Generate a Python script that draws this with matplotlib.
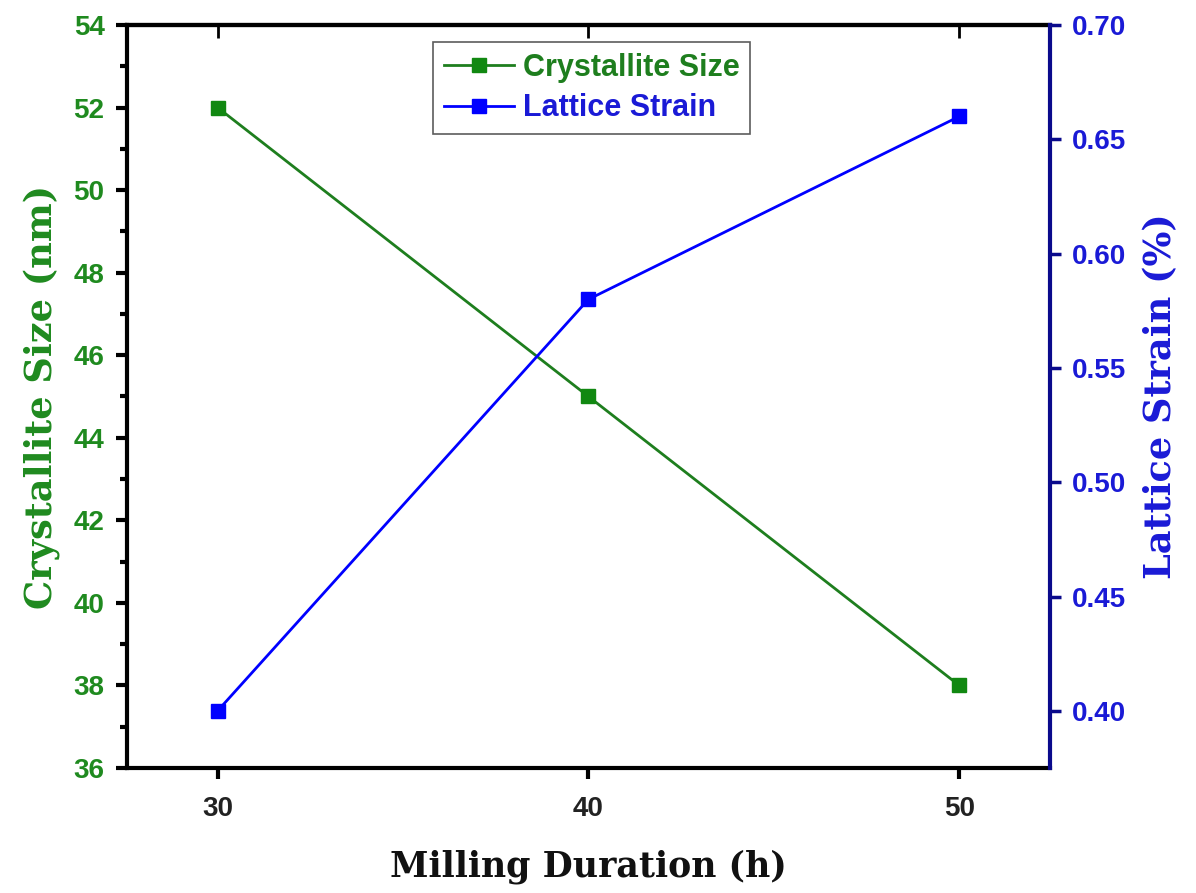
import matplotlib
matplotlib.use("Agg")
import matplotlib.pyplot as plt
from matplotlib.ticker import MultipleLocator, AutoMinorLocator, FormatStrFormatter

duration = [30, 40, 50]
crystallite_size = [52, 45, 38]
lattice_strain = [0.40, 0.58, 0.66]

green = "#1f8a1f"
green_line = "#1e7e1e"
blue = "#0000ff"
blue_text = "#1a1ad6"
navy = "#0a0a8c"

plt.rcParams["font.family"] = "Liberation Sans"
plt.rcParams["font.weight"] = "bold"

fig = plt.figure(figsize=(11.96, 8.93), dpi=100)
ax = fig.add_axes([0.106, 0.14, 0.772, 0.832])
ax2 = ax.twinx()

l1, = ax.plot(duration, crystallite_size, color=green_line, lw=2, marker="s",
              markersize=10, markerfacecolor="#118811", markeredgecolor="#118811",
              label="Crystallite Size")
l2, = ax2.plot(duration, lattice_strain, color=blue, lw=2, marker="s",
               markersize=10, markerfacecolor=blue, markeredgecolor=blue,
               label="Lattice Strain")

ax.set_xlim(27.55, 52.45)
ax.set_ylim(36, 54)
ax2.set_ylim(0.375, 0.70)
ax.set_xticks(duration)
ax.yaxis.set_major_locator(MultipleLocator(2))
ax.yaxis.set_minor_locator(AutoMinorLocator(2))
ax2.yaxis.set_major_locator(MultipleLocator(0.05))
ax2.yaxis.set_major_formatter(FormatStrFormatter("%.2f"))

for sp in ["left", "bottom", "top"]:
    ax.spines[sp].set_linewidth(3)
    ax.spines[sp].set_color("black")
ax.spines["right"].set_visible(False)
ax2.spines["right"].set_linewidth(3)
ax2.spines["right"].set_color(navy)
for sp in ["left", "bottom", "top"]:
    ax2.spines[sp].set_visible(False)

ax.tick_params(axis="x", which="major", direction="out", length=8, width=3,
               pad=12, labelsize=20, labelcolor="#222222", top=False)
ax.tick_params(axis="y", which="major", direction="out", length=8, width=3,
               pad=8, labelsize=20, labelcolor=green)
ax.tick_params(axis="y", which="minor", direction="out", length=5, width=3)
ax2.tick_params(axis="y", which="major", direction="out", length=8, width=2.5,
                color=navy, pad=8, labelsize=20, labelcolor=blue_text)

top = ax.secondary_xaxis("top")
top.set_xticks(duration)
top.tick_params(axis="x", direction="in", length=9, width=2, labeltop=False)
top.spines["top"].set_linewidth(3)

label_font = dict(family="DejaVu Serif", weight="bold")
ax.set_xlabel("Milling Duration (h)", **label_font, size=25, color="#111111",
              labelpad=20)
ax.set_ylabel("Crystallite Size (nm)", **label_font, size=26.5, color=green,
              labelpad=10)
ax2.set_ylabel("Lattice Strain (%)", **label_font, size=26.5, color=blue_text,
               labelpad=12)

leg = ax.legend(handles=[l1, l2], loc="upper left", bbox_to_anchor=(0.3315, 0.977),
                prop=dict(family="Liberation Sans", weight="bold", size=22),
                frameon=True, fancybox=False, edgecolor="#333333",
                handlelength=2.3, handletextpad=0.3, borderpad=0.35,
                labelspacing=0.35, borderaxespad=0)
leg.get_frame().set_linewidth(1.2)
leg.get_texts()[0].set_color(green_line)
leg.get_texts()[1].set_color(blue_text)

fig.savefig("out.png", dpi=100)
